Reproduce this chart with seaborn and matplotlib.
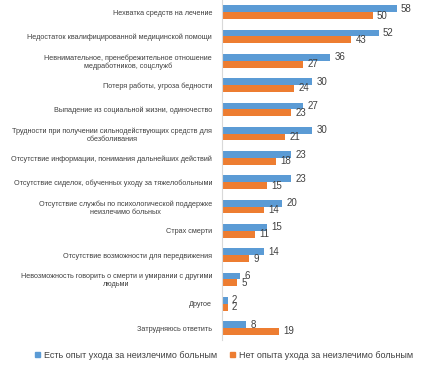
import matplotlib
matplotlib.use("Agg")
import matplotlib.pyplot as plt
import seaborn as sns
import pandas as pd

categories = [
    "Нехватка средств на лечение",
    "Недостаток квалифицированной медицинской помощи",
    "Невнимательное, пренебрежительное отношение\nмедработников, соцслужб",
    "Потеря работы, угроза бедности",
    "Выпадение из социальной жизни, одиночество",
    "Трудности при получении сильнодействующих средств для\nобезболивания",
    "Отсутствие информации, понимания дальнейших действий",
    "Отсутствие сиделок, обученных уходу за тяжелобольными",
    "Отсутствие службы по психологической поддержке\nнеизлечимо больных",
    "Страх смерти",
    "Отсутствие возможности для передвижения",
    "Невозможность говорить о смерти и умирании с другими\nлюдьми",
    "Другое",
    "Затрудняюсь ответить",
]
series_names = ["Есть опыт ухода за неизлечимо больным",
                "Нет опыта ухода за неизлечимо больным"]
with_exp = [58, 52, 36, 30, 27, 30, 23, 23, 20, 15, 14, 6, 2, 8]
without_exp = [50, 43, 27, 24, 23, 21, 18, 15, 14, 11, 9, 5, 2, 19]
colors = ["#5B9BD5", "#ED7D31"]

df = pd.DataFrame({
    "cat": categories * 2,
    "val": with_exp + without_exp,
    "series": [series_names[0]] * len(categories) + [series_names[1]] * len(categories),
})

sns.set_style("white")
plt.rcParams["font.family"] = ["Liberation Sans", "DejaVu Sans"]

fig = plt.figure(figsize=(4.35, 3.65), dpi=100)
ax = fig.add_axes([0.510, 0.068, 0.485, 0.932])
sns.barplot(data=df, y="cat", x="val", hue="series", orient="h",
            palette=colors, width=0.56, ax=ax, order=categories,
            hue_order=series_names, saturation=1, linewidth=0, edgecolor="none")
ax.set_xlim(0, 70)
ax.set_xlabel("")
ax.set_ylabel("")
ax.set_xticks([])
for c in ax.containers:
    ax.bar_label(c, padding=3, fontsize=7, color="#404040")
ax.tick_params(axis="y", length=0, pad=7, labelsize=5.2, labelcolor="#404040")
for lab in ax.get_yticklabels():
    lab.set_multialignment("center")
for s in ["top", "right", "bottom"]:
    ax.spines[s].set_visible(False)
ax.spines["left"].set_color("#D9D9D9")
ax.spines["left"].set_linewidth(0.8)

ax.get_legend().remove()
handles = [plt.Rectangle((0, 0), 1, 1, color=c) for c in colors]
fig.legend(handles, series_names, loc="center", bbox_to_anchor=(0.515, 0.027),
           ncol=2, frameon=False, fontsize=6.5, handlelength=0.6, handleheight=0.6,
           handletextpad=0.4, columnspacing=1.4, labelcolor="#404040")
fig.savefig("out.png", dpi=100)
